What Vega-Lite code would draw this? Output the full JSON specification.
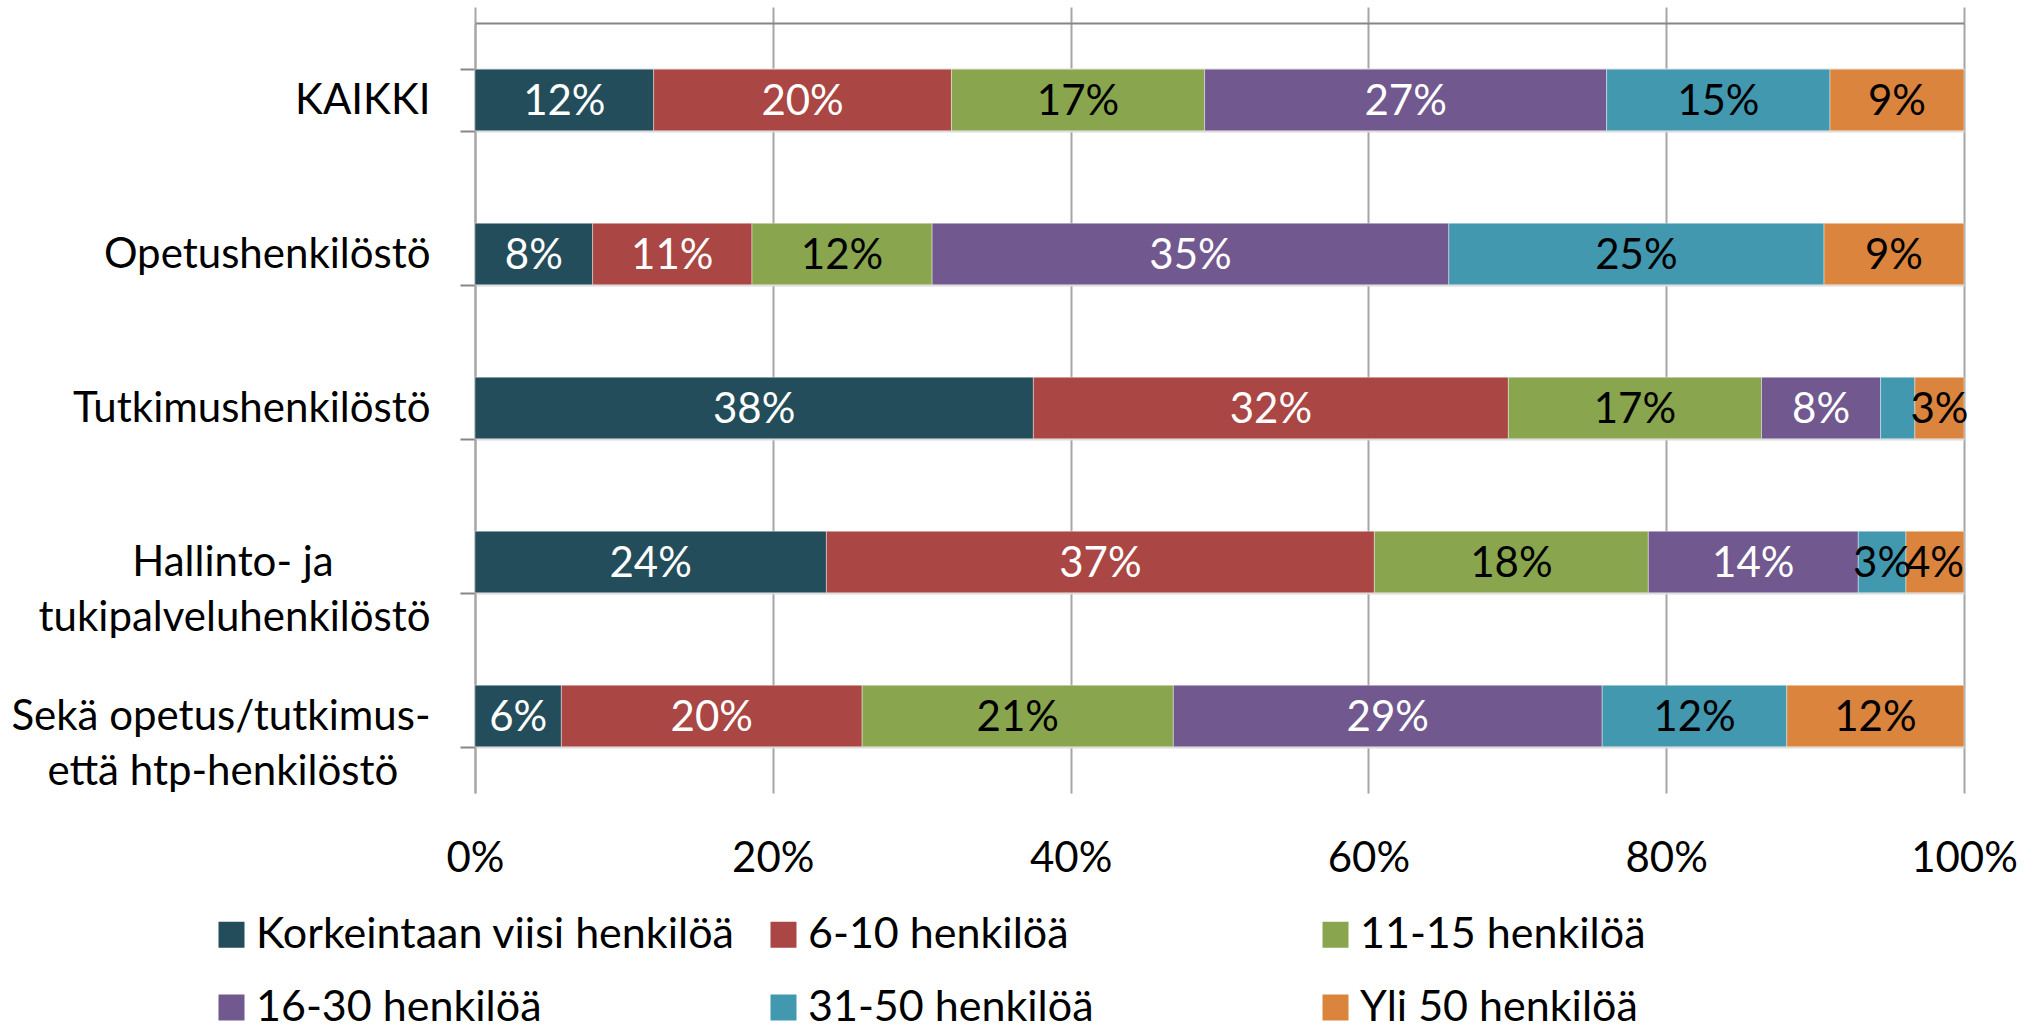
{
  "$schema": "https://vega.github.io/schema/vega-lite/v6.json",
  "width": 1489,
  "height": 770,
  "autosize": {"type": "none"},
  "padding": {"left": 475, "top": 23, "right": 75, "bottom": 237},
  "background": "white",
  "config": {"font": "Lato", "view": {"stroke": null}},
  "data": {
    "values": [
      {"group": "KAIKKI", "k": 1, "size": "Korkeintaan viisi henkilöä", "value": 12, "label": "12%"},
      {"group": "KAIKKI", "k": 2, "size": "6-10 henkilöä", "value": 20, "label": "20%"},
      {"group": "KAIKKI", "k": 3, "size": "11-15 henkilöä", "value": 17, "label": "17%"},
      {"group": "KAIKKI", "k": 4, "size": "16-30 henkilöä", "value": 27, "label": "27%"},
      {"group": "KAIKKI", "k": 5, "size": "31-50 henkilöä", "value": 15, "label": "15%"},
      {"group": "KAIKKI", "k": 6, "size": "Yli 50 henkilöä", "value": 9, "label": "9%"},
      {"group": "Opetushenkilöstö", "k": 1, "size": "Korkeintaan viisi henkilöä", "value": 7.9, "label": "8%"},
      {"group": "Opetushenkilöstö", "k": 2, "size": "6-10 henkilöä", "value": 10.7, "label": "11%"},
      {"group": "Opetushenkilöstö", "k": 3, "size": "11-15 henkilöä", "value": 12.1, "label": "12%"},
      {"group": "Opetushenkilöstö", "k": 4, "size": "16-30 henkilöä", "value": 34.7, "label": "35%"},
      {"group": "Opetushenkilöstö", "k": 5, "size": "31-50 henkilöä", "value": 25.2, "label": "25%"},
      {"group": "Opetushenkilöstö", "k": 6, "size": "Yli 50 henkilöä", "value": 9.4, "label": "9%"},
      {"group": "Tutkimushenkilöstö", "k": 1, "size": "Korkeintaan viisi henkilöä", "value": 37.5, "label": "38%"},
      {"group": "Tutkimushenkilöstö", "k": 2, "size": "6-10 henkilöä", "value": 31.9, "label": "32%"},
      {"group": "Tutkimushenkilöstö", "k": 3, "size": "11-15 henkilöä", "value": 17.0, "label": "17%"},
      {"group": "Tutkimushenkilöstö", "k": 4, "size": "16-30 henkilöä", "value": 8.0, "label": "8%"},
      {"group": "Tutkimushenkilöstö", "k": 5, "size": "31-50 henkilöä", "value": 2.3, "label": ""},
      {"group": "Tutkimushenkilöstö", "k": 6, "size": "Yli 50 henkilöä", "value": 3.3, "label": "3%"},
      {"group": "Hallinto- ja tukipalveluhenkilöstö", "k": 1, "size": "Korkeintaan viisi henkilöä", "value": 23.6, "label": "24%"},
      {"group": "Hallinto- ja tukipalveluhenkilöstö", "k": 2, "size": "6-10 henkilöä", "value": 36.8, "label": "37%"},
      {"group": "Hallinto- ja tukipalveluhenkilöstö", "k": 3, "size": "11-15 henkilöä", "value": 18.4, "label": "18%"},
      {"group": "Hallinto- ja tukipalveluhenkilöstö", "k": 4, "size": "16-30 henkilöä", "value": 14.1, "label": "14%"},
      {"group": "Hallinto- ja tukipalveluhenkilöstö", "k": 5, "size": "31-50 henkilöä", "value": 3.2, "label": "3%"},
      {"group": "Hallinto- ja tukipalveluhenkilöstö", "k": 6, "size": "Yli 50 henkilöä", "value": 3.9, "label": "4%"},
      {"group": "Sekä opetus/tutkimus- että htp-henkilöstö", "k": 1, "size": "Korkeintaan viisi henkilöä", "value": 5.8, "label": "6%"},
      {"group": "Sekä opetus/tutkimus- että htp-henkilöstö", "k": 2, "size": "6-10 henkilöä", "value": 20.2, "label": "20%"},
      {"group": "Sekä opetus/tutkimus- että htp-henkilöstö", "k": 3, "size": "11-15 henkilöä", "value": 20.9, "label": "21%"},
      {"group": "Sekä opetus/tutkimus- että htp-henkilöstö", "k": 4, "size": "16-30 henkilöä", "value": 28.8, "label": "29%"},
      {"group": "Sekä opetus/tutkimus- että htp-henkilöstö", "k": 5, "size": "31-50 henkilöä", "value": 12.4, "label": "12%"},
      {"group": "Sekä opetus/tutkimus- että htp-henkilöstö", "k": 6, "size": "Yli 50 henkilöä", "value": 11.9, "label": "12%"}
    ]
  },
  "transform": [
    {"stack": "value", "groupby": ["group"], "sort": [{"field": "k", "order": "ascending"}], "as": ["v0", "v1"]},
    {"calculate": "(datum.v0 + datum.v1) / 2", "as": "mid"}
  ],
  "encoding": {
    "y": {
      "field": "group",
      "type": "nominal",
      "sort": null,
      "scale": {"paddingInner": 0.6, "paddingOuter": 0.3},
      "axis": {
        "title": null,
        "labelFontSize": 42,
        "labelColor": "black",
        "labelLimit": 0,
        "labelLineHeight": 55,
        "labelPadding": 30,
        "labelExpr": "datum.value == 'Hallinto- ja tukipalveluhenkilöstö' ? ['Hallinto- ja\u00a0\u00a0\u00a0\u00a0\u00a0\u00a0\u00a0\u00a0\u00a0\u200b', 'tukipalveluhenkilöstö'] : datum.value == 'Sekä opetus/tutkimus- että htp-henkilöstö' ? ['Sekä opetus/tutkimus-', 'että htp-henkilöstö\u00a0\u00a0\u00a0\u200b'] : datum.label",
        "tickBand": "extent",
        "grid": true,
        "gridColor": "#d9d9d9",
        "gridWidth": 2,
        "ticks": true,
        "tickSize": 15,
        "tickColor": "#868686",
        "tickWidth": 2,
        "domain": true,
        "domainColor": "#a6a6a6",
        "domainWidth": 2
      }
    }
  },
  "layer": [
    {
      "mark": {"type": "bar", "stroke": "white", "strokeWidth": 1, "strokeOpacity": 0.4},
      "encoding": {
        "x": {
          "field": "v0",
          "type": "quantitative",
          "scale": {"domain": [0, 100], "nice": false},
          "axis": {
            "orient": "bottom",
            "title": null,
            "values": [0, 20, 40, 60, 80, 100],
            "labelExpr": "datum.value + '%'",
            "labelFontSize": 42,
            "labelColor": "black",
            "labelBaseline": "alphabetic",
            "labelPadding": 78,
            "labelFlush": false,
            "labelOverlap": false,
            "ticks": false,
            "domain": false,
            "grid": true,
            "gridColor": "#a6a6a6",
            "gridWidth": 2
          }
        },
        "x2": {"field": "v1"},
        "color": {
          "field": "size",
          "type": "nominal",
          "scale": {
            "domain": ["Korkeintaan viisi henkilöä", "6-10 henkilöä", "11-15 henkilöä", "16-30 henkilöä", "31-50 henkilöä", "Yli 50 henkilöä"],
            "range": ["#244D5B", "#AA4643", "#89A54E", "#71588F", "#4198AF", "#DB843D"]
          },
          "legend": {
            "title": null,
            "orient": "none",
            "legendX": -265,
            "legendY": 890,
            "direction": "horizontal",
            "columns": 3,
            "gridAlign": "all",
            "columnPadding": 27,
            "rowPadding": 29,
            "padding": 0,
            "symbolType": "square",
            "symbolSize": 676,
            "symbolStrokeWidth": 0,
            "symbolOpacity": 1,
            "labelFontSize": 43,
            "labelColor": "black",
            "labelOffset": 3,
            "labelLimit": 0
          }
        }
      }
    },
    {
      "mark": {"type": "text", "fontSize": 42, "baseline": "middle", "align": "center", "dy": 2},
      "encoding": {
        "x": {
          "field": "mid",
          "type": "quantitative",
          "scale": {"domain": [0, 100], "nice": false},
          "axis": {
            "orient": "top",
            "title": null,
            "values": [0, 20, 40, 60, 80, 100],
            "labels": false,
            "ticks": true,
            "tickSize": 16,
            "tickColor": "#a6a6a6",
            "tickWidth": 2,
            "domain": true,
            "domainColor": "#868686",
            "domainWidth": 2,
            "grid": false
          }
        },
        "text": {"field": "label"},
        "color": {
          "condition": {"test": "indexof(['11-15 henkilöä', '31-50 henkilöä', 'Yli 50 henkilöä'], datum.size) >= 0", "value": "black"},
          "value": "white"
        }
      }
    }
  ],
  "resolve": {"axis": {"x": "independent"}}
}
